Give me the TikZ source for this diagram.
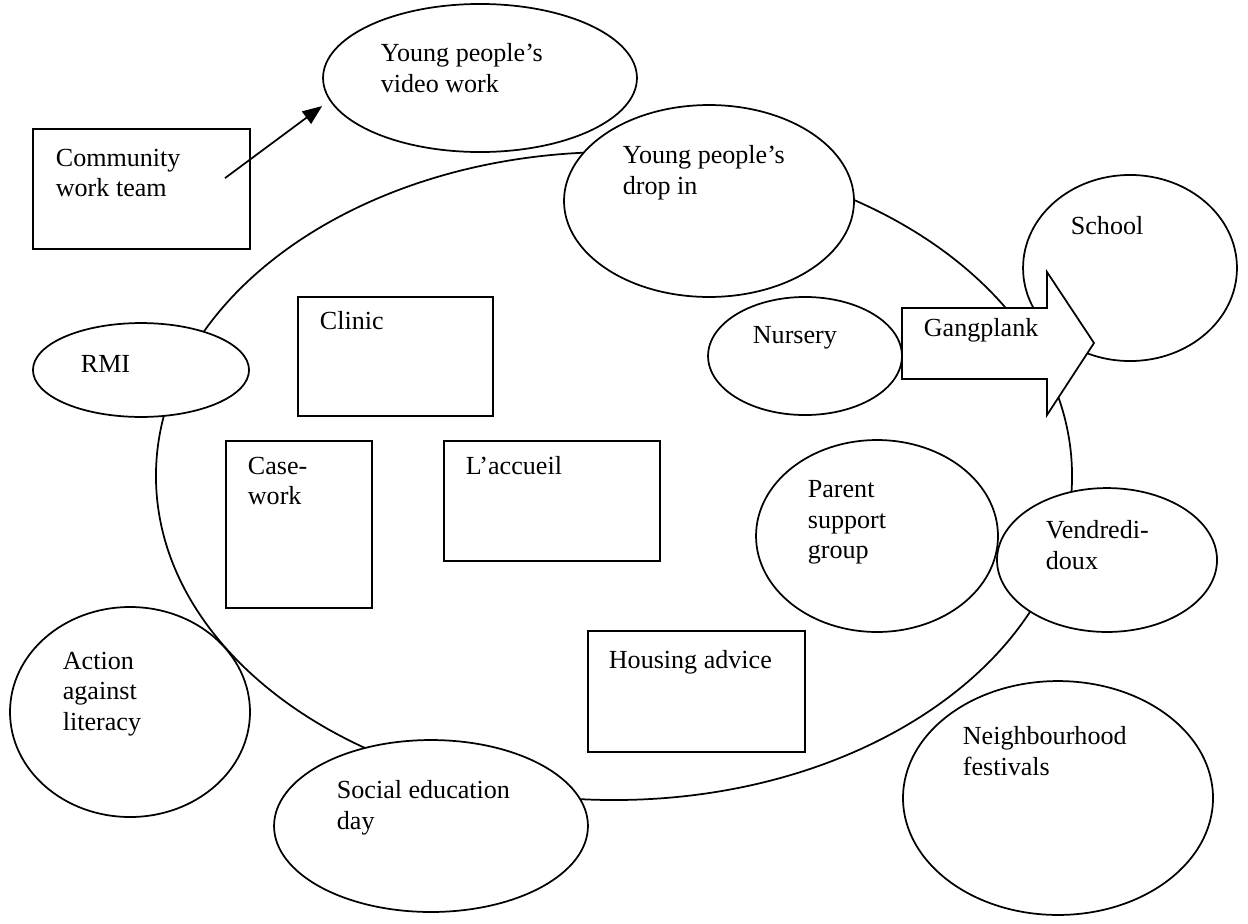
\documentclass[tikz,border=0pt]{standalone}
\usepackage{fontspec}
\setmainfont{Liberation Serif}
\usetikzlibrary{arrows.meta, shapes.geometric}

\begin{document}
\begin{tikzpicture}[x=0.46pt, y=-0.46pt, line width=0.8pt,
  font=\fontsize{12pt}{14pt}\selectfont,
  oval/.style={draw, ellipse, fill=white, inner sep=0pt},
  box/.style={draw, rectangle, fill=white, inner sep=0pt},
  txt/.style={anchor=north west, align=left, inner sep=0pt},
  arr/.style={-{Triangle[length=9pt, width=7pt]}}]
  \useasboundingbox (0,0) rectangle (1248,923);
  % the big ring of services
  \node[oval, minimum width=421.4pt, minimum height=298.1pt] (ring) at (614,476) {};
  % boxes
  \node[box, minimum width=99.8pt, minimum height=55.2pt] (cw) at (141.5,189) {};
  \node[box, minimum width=89.7pt, minimum height=54.7pt] (clinic) at (395.5,356.5) {};
  \node[box, minimum width=67.2pt, minimum height=76.8pt] (case) at (299,524.5) {};
  \node[box, minimum width=99.4pt, minimum height=55.2pt] (accueil) at (552,501) {};
  \node[box, minimum width=99.8pt, minimum height=55.7pt] (housing) at (696.5,691.5) {};
  % ovals
  \node[oval, minimum width=144.4pt, minimum height=68.1pt] (vid) at (480,78) {};
  \node[oval, minimum width=133.4pt, minimum height=88.3pt] (dropin) at (709,201) {};
  \node[oval, minimum width=98.4pt, minimum height=85.6pt] (school) at (1130,268) {};
  \node[oval, minimum width=99.4pt, minimum height=43.2pt] (rmi) at (141,370) {};
  \node[oval, minimum width=89.2pt, minimum height=54.3pt] (nursery) at (805,356) {};
  \node[oval, minimum width=111.3pt, minimum height=88.3pt] (parent) at (877,536) {};
  \node[oval, minimum width=101.2pt, minimum height=66.2pt] (vendredi) at (1107,560) {};
  \node[oval, minimum width=110.4pt, minimum height=96.6pt] (action) at (130,712) {};
  \node[oval, minimum width=144.4pt, minimum height=79.1pt] (social) at (431,826) {};
  \node[oval, minimum width=142.6pt, minimum height=107.6pt] (festival) at (1058,798) {};
  % gangplank block arrow
  \draw[fill=white] (902,308) -- (1047,308) -- (1047,272) -- (1094,343)
    -- (1047,415) -- (1047,379) -- (902,379) -- cycle;
  % texts
  \node[txt] (cwt) at (55,148) {Community\\work team};
  \node[txt] (vidt) at (380,43) {Young people’s\\video work};
  \node[txt] (dropint) at (622,145) {Young people’s\\drop in};
  \node[txt] (schoolt) at (1070,216) {School};
  \node[txt] (rmit) at (80,355) {RMI};
  \node[txt] (clinict) at (319,311) {Clinic};
  \node[txt] (nurseryt) at (752,326) {Nursery};
  \node[txt] (gangt) at (923,318) {Gangplank};
  \node[txt] (caset) at (247,456) {Case-\\work};
  \node[txt] (accueilt) at (465,456) {L’accueil};
  \node[txt] (parentt) at (807,480) {Parent\\support\\group};
  \node[txt] (vendredit) at (1045,520) {Vendredi-\\doux};
  \node[txt] (housingt) at (608,650) {Housing advice};
  \node[txt] (actiont) at (62,651) {Action\\against\\literacy};
  \node[txt] (socialt) at (336,780) {Social education\\day};
  \node[txt] (festivalt) at (962,726) {Neighbourhood\\festivals};
  % community work team feeds the video work
  \draw[arr] ([xshift=38.4pt, yshift=5pt]cw.center) -- ([yshift=-12.9pt]vid.west);
\end{tikzpicture}
\end{document}
